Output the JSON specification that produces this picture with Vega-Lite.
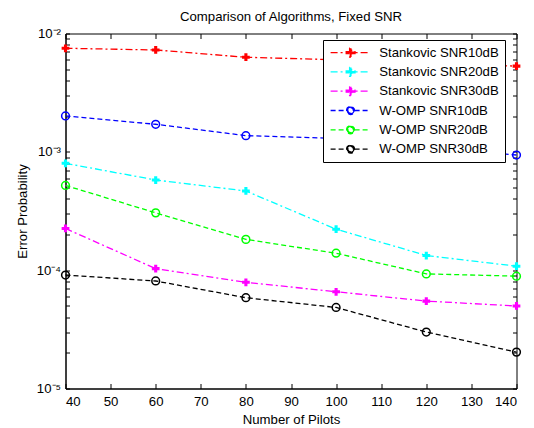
{
  "$schema": "https://vega.github.io/schema/vega-lite/v6.json",
  "width": 451,
  "height": 355,
  "autosize": "none",
  "padding": {"left": 65.5, "top": 33.5, "right": 17.5, "bottom": 39.5},
  "background": "white",
  "title": {"text": "Comparison of Algorithms, Fixed SNR", "fontSize": 13.2, "fontWeight": "normal", "font": "Liberation Sans", "color": "#000000", "offset": 2, "anchor": "middle"},
  "config": {
    "view": {"stroke": "black", "strokeWidth": 1},
    "font": "Liberation Sans",
    "axis": {"labelFont": "Liberation Sans", "titleFont": "Liberation Sans", "labelFontSize": 13.2, "titleFontSize": 13.2, "titleFontWeight": "normal", "labelColor": "#000000", "titleColor": "#000000", "domainColor": "#000000", "tickColor": "#000000", "grid": false}
  },
  "data": {"values": [
    {"pilots": 40, "ep": 0.0075, "series": "Stankovic SNR10dB"},
    {"pilots": 60, "ep": 0.00726, "series": "Stankovic SNR10dB"},
    {"pilots": 80, "ep": 0.0063, "series": "Stankovic SNR10dB"},
    {"pilots": 100, "ep": 0.006, "series": "Stankovic SNR10dB"},
    {"pilots": 120, "ep": 0.0056, "series": "Stankovic SNR10dB"},
    {"pilots": 140, "ep": 0.0053, "series": "Stankovic SNR10dB"},
    {"pilots": 40, "ep": 0.0008, "series": "Stankovic SNR20dB"},
    {"pilots": 60, "ep": 0.000578, "series": "Stankovic SNR20dB"},
    {"pilots": 80, "ep": 0.000467, "series": "Stankovic SNR20dB"},
    {"pilots": 100, "ep": 0.000222, "series": "Stankovic SNR20dB"},
    {"pilots": 120, "ep": 0.000133, "series": "Stankovic SNR20dB"},
    {"pilots": 140, "ep": 0.000108, "series": "Stankovic SNR20dB"},
    {"pilots": 40, "ep": 0.000225, "series": "Stankovic SNR30dB"},
    {"pilots": 60, "ep": 0.000103, "series": "Stankovic SNR30dB"},
    {"pilots": 80, "ep": 0.000079, "series": "Stankovic SNR30dB"},
    {"pilots": 100, "ep": 0.0000657, "series": "Stankovic SNR30dB"},
    {"pilots": 120, "ep": 0.0000548, "series": "Stankovic SNR30dB"},
    {"pilots": 140, "ep": 0.0000498, "series": "Stankovic SNR30dB"},
    {"pilots": 40, "ep": 0.00201, "series": "W-OMP SNR10dB"},
    {"pilots": 60, "ep": 0.00171, "series": "W-OMP SNR10dB"},
    {"pilots": 80, "ep": 0.00137, "series": "W-OMP SNR10dB"},
    {"pilots": 100, "ep": 0.0013, "series": "W-OMP SNR10dB"},
    {"pilots": 120, "ep": 0.0011, "series": "W-OMP SNR10dB"},
    {"pilots": 140, "ep": 0.00094, "series": "W-OMP SNR10dB"},
    {"pilots": 40, "ep": 0.00052, "series": "W-OMP SNR20dB"},
    {"pilots": 60, "ep": 0.000305, "series": "W-OMP SNR20dB"},
    {"pilots": 80, "ep": 0.000182, "series": "W-OMP SNR20dB"},
    {"pilots": 100, "ep": 0.000139, "series": "W-OMP SNR20dB"},
    {"pilots": 120, "ep": 0.000093, "series": "W-OMP SNR20dB"},
    {"pilots": 140, "ep": 0.000089, "series": "W-OMP SNR20dB"},
    {"pilots": 40, "ep": 0.000091, "series": "W-OMP SNR30dB"},
    {"pilots": 60, "ep": 0.000081, "series": "W-OMP SNR30dB"},
    {"pilots": 80, "ep": 0.0000585, "series": "W-OMP SNR30dB"},
    {"pilots": 100, "ep": 0.0000484, "series": "W-OMP SNR30dB"},
    {"pilots": 120, "ep": 0.00003, "series": "W-OMP SNR30dB"},
    {"pilots": 140, "ep": 0.0000203, "series": "W-OMP SNR30dB"}
  ]},
  "layer": [
    {
      "mark": {"type": "line", "strokeWidth": 1.3},
      "encoding": {
        "x": {"field": "pilots", "type": "quantitative", "scale": {"domain": [40, 140], "nice": false, "zero": false},
              "axis": {"orient": "bottom", "title": "Number of Pilots", "values": [40,50,60,70,80,90,100,110,120,130,140], "tickSize": -5, "labelPadding": 12, "titlePadding": 6, "domain": true}},
        "y": {"field": "ep", "type": "quantitative", "scale": {"type": "log", "domain": [0.00001, 0.01], "nice": false},
              "axis": {"orient": "left", "title": "Error Probability", "values": [0.00001,0.00002,0.00003,0.00004,0.00005,0.00006,0.00007,0.00008,0.00009,0.0001,0.0002,0.0003,0.0004,0.0005,0.0006,0.0007,0.0008,0.0009,0.001,0.002,0.003,0.004,0.005,0.006,0.007,0.008,0.009,0.01],
                       "labelExpr": "datum.value == 0.01 ? '10⁻²' : datum.value == 0.001 ? '10⁻³' : datum.value == 0.0001 ? '10⁻⁴' : datum.value == 0.00001 ? '10⁻⁵' : ''",
                       "tickSize": -4, "labelPadding": 9, "titlePadding": 7}},
        "color": {"field": "series", "type": "nominal",
                  "scale": {"domain": ["Stankovic SNR10dB","Stankovic SNR20dB","Stankovic SNR30dB","W-OMP SNR10dB","W-OMP SNR20dB","W-OMP SNR30dB"],
                            "range": ["#ff0000","#00ffff","#ff00ff","#0000ff","#00ff00","#000000"]},
                  "legend": {"title": null, "orient": "none", "legendX": 257.5, "legendY": 6.5,
                             "strokeColor": "#000000", "fillColor": "#ffffff", "padding": 6,
                             "labelFontSize": 13.2, "labelFont": "Liberation Sans", "labelColor": "#000000",
                             "symbolSize": 100, "symbolStrokeWidth": 1.3, "labelOffset": 37, "rowPadding": 4.3,
                             "encode": {"symbols": {"update": {
                               "shape": {"signal": "indexof(datum.value, 'Stankovic') >= 0 ? 'M-1,0H7M2.12,-0.2H2.8V-0.88H3.2V-0.2H3.88V0.2H3.2V0.88H2.8V0.2H2.12Z' : 'M-1,0H2.2M3.8,0H7M2.2,0A0.8,0.8 0 1,1 3.8,0A0.8,0.8 0 1,1 2.2,0ZM2.44,0A0.56,0.56 0 1,0 3.56,0A0.56,0.56 0 1,0 2.44,0Z'"},
                               "fill": {"signal": "scale('color', datum.value)"},
                               "fillOpacity": {"value": 1},
                               "stroke": {"signal": "scale('color', datum.value)"},
                               "strokeDash": {"signal": "indexof(datum.value, 'Stankovic') >= 0 ? [7,3,2,3] : [5,3]"}
                             }}}}},
        "strokeDash": {"field": "series", "type": "nominal",
                       "scale": {"domain": ["Stankovic SNR10dB","Stankovic SNR20dB","Stankovic SNR30dB","W-OMP SNR10dB","W-OMP SNR20dB","W-OMP SNR30dB"],
                                 "range": [[7,3,2,3],[7,3,2,3],[7,3,2,3],[5,3],[5,3],[5,3]]},
                       "legend": null}
      }
    },
    {
      "transform": [{"filter": "indexof(datum.series, 'Stankovic') >= 0"}],
      "mark": {"type": "point", "shape": "cross", "filled": true, "size": 60, "opacity": 1},
      "encoding": {
        "x": {"field": "pilots", "type": "quantitative",
              "axis": {"orient": "top", "title": null, "labels": false, "values": [40,50,60,70,80,90,100,110,120,130,140], "tickSize": -5, "domain": false}},
        "y": {"field": "ep", "type": "quantitative",
              "axis": {"orient": "right", "title": null, "labels": false, "domain": false, "tickSize": -4,
                       "values": [0.00001,0.00002,0.00003,0.00004,0.00005,0.00006,0.00007,0.00008,0.00009,0.0001,0.0002,0.0003,0.0004,0.0005,0.0006,0.0007,0.0008,0.0009,0.001,0.002,0.003,0.004,0.005,0.006,0.007,0.008,0.009,0.01]}},
        "color": {"field": "series", "type": "nominal"}
      }
    },
    {
      "transform": [{"filter": "indexof(datum.series, 'W-OMP') >= 0"}],
      "mark": {"type": "point", "shape": "circle", "filled": false, "size": 60, "strokeWidth": 1.5, "opacity": 1},
      "encoding": {
        "x": {"field": "pilots", "type": "quantitative", "axis": null},
        "y": {"field": "ep", "type": "quantitative", "axis": null},
        "color": {"field": "series", "type": "nominal"}
      }
    }
  ],
  "resolve": {"axis": {"x": "independent", "y": "independent"}}
}
